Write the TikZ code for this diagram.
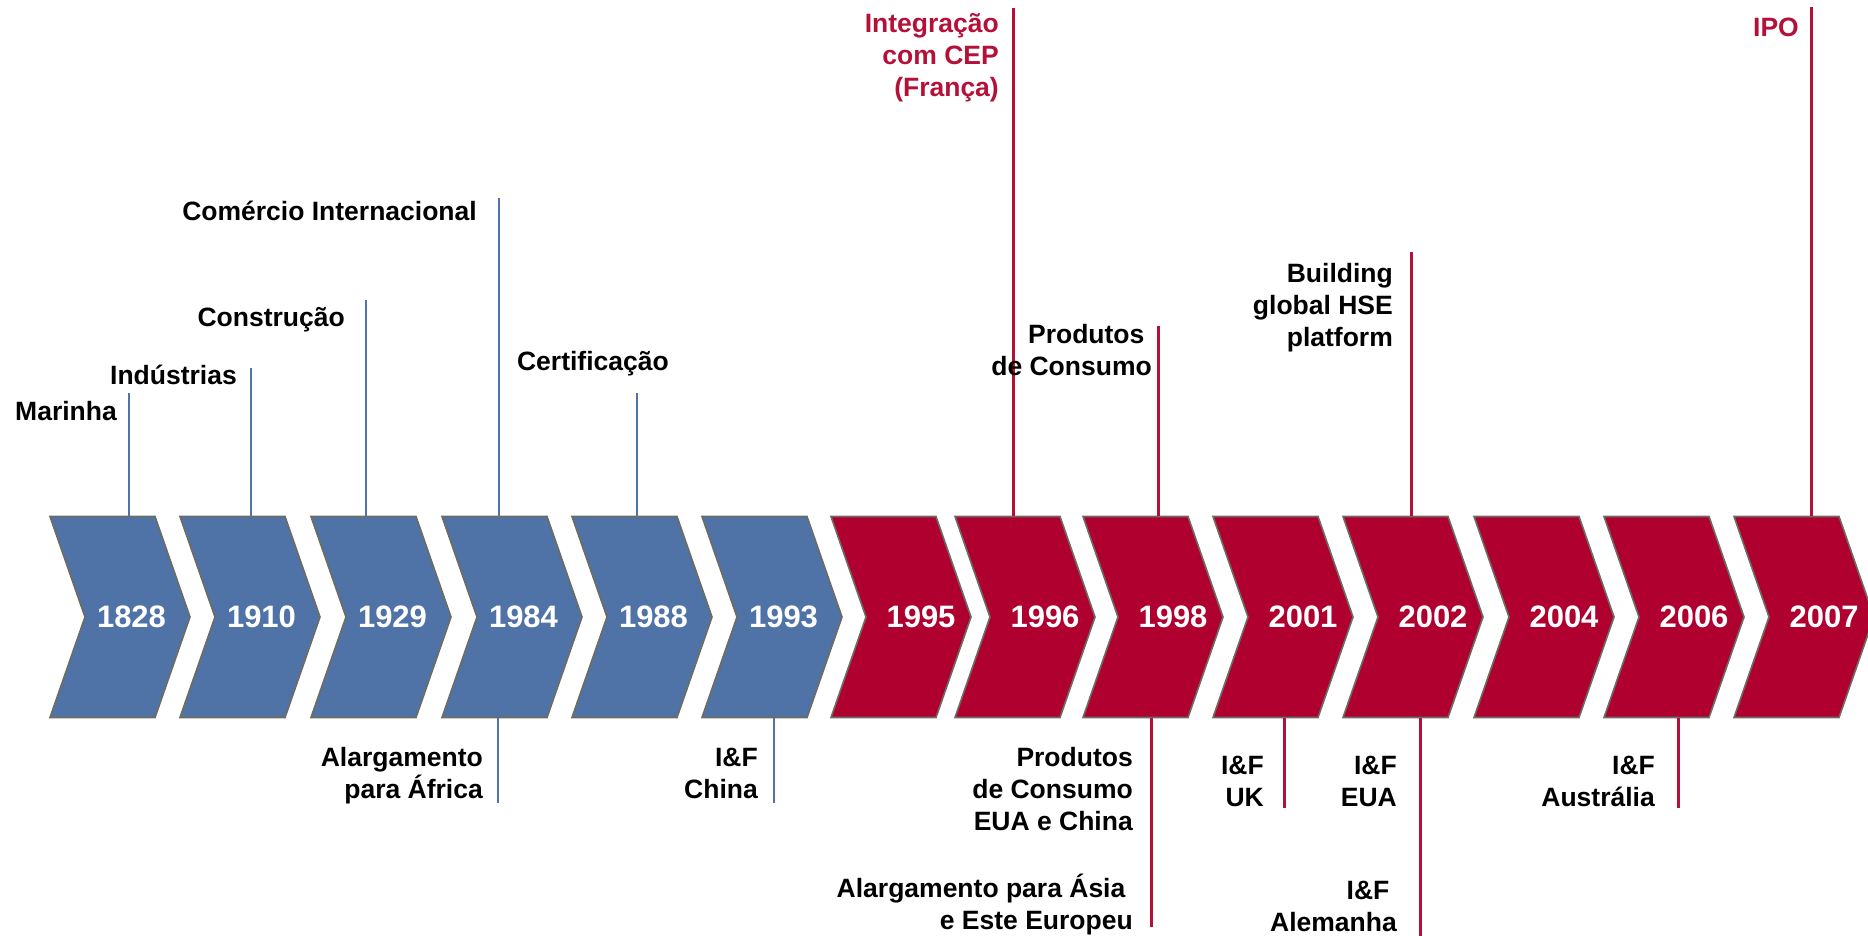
\documentclass[tikz,border=0pt]{standalone}
\usepackage{fontspec}
\setmainfont{Liberation Sans}
\usetikzlibrary{shapes.symbols}

\definecolor{chevblue}{RGB}{79,115,166}
\definecolor{chevred}{RGB}{175,0,47}
\definecolor{linered}{RGB}{180,16,56}
\definecolor{lineblue}{RGB}{79,115,172}
\definecolor{rimgray}{RGB}{108,108,98}

\tikzset{
  chev/.style={shape=signal, signal from=west, signal to=east, signal pointer angle=141.6,
    minimum width=140pt, minimum height=201pt, inner sep=0pt, draw=rimgray, line width=1.6pt},
  chevblue/.style={chev, fill=chevblue},
  chevred/.style={chev, fill=chevred},
  yeartext/.style={text=white, font=\fontsize{31}{37}\selectfont\bfseries, inner sep=0pt},
  yearblue/.style={yeartext, xshift=11.5pt},
  yearred/.style={yeartext, xshift=20pt},
  event/.style={anchor=base east, align=right, inner sep=0pt, font=\fontsize{26.5}{32}\selectfont\bfseries},
  redevent/.style={event, text=linered},
  blueline/.style={draw=lineblue, line width=2.5pt},
  redline/.style={draw=linered, line width=3pt}
}

\begin{document}
\begin{tikzpicture}[x=1pt, y=-1pt]
		\clip (0,0) rectangle (1868,936);
		
		% chevrons with years
		\foreach \yr/\xl/\kind in {1828/50/blue, 1910/180/blue, 1929/311/blue, 1984/442/blue, 1988/572/blue, 1993/702/blue,
		  1995/831/red, 1996/955/red, 1998/1083/red, 2001/1213/red, 2002/1343/red, 2004/1474/red, 2006/1604/red, 2007/1734/red}{
		  \node (c\yr) [chev\kind] at (\xl+70,617) {};
		  \node (t\yr) [year\kind] at (c\yr.center) {\yr};
		}
		
		% upper markers
		\coordinate (mMarinha) at (129,393);
		\coordinate (mIndustrias) at (251,368);
		\coordinate (mConstrucao) at (366,300);
		\coordinate (mComercio) at (499,198);
		\coordinate (mCertif) at (637,393);
		\coordinate (mCEP) at (1013,8);
		\coordinate (mConsumo) at (1158,326);
		\coordinate (mHSE) at (1411,252);
		\coordinate (mIPO) at (1811,7);
		
		\draw [blueline] (mMarinha |- c1828.north) -- (mMarinha);
		\draw [blueline] (mIndustrias |- c1910.north) -- (mIndustrias);
		\draw [blueline] (mConstrucao |- c1929.north) -- (mConstrucao);
		\draw [blueline] (mComercio |- c1984.north) -- (mComercio);
		\draw [blueline] (mCertif |- c1988.north) -- (mCertif);
		\draw [redline] (mCEP |- c1996.north) -- (mCEP);
		\draw [redline] (mConsumo |- c1998.north) -- (mConsumo);
		\draw [redline] (mHSE |- c2002.north) -- (mHSE);
		\draw [redline] (mIPO |- c2007.north) -- (mIPO);
		
		% labels sit on the baseline of their last line
		\node (eMarinha) [event] at (117,420.5) {Marinha};
		\node (eIndustrias) [event] at (237,384.5) {Indústrias};
		\node (eConstrucao) [event] at (345,326) {Construção};
		\node (eComercio) [event] at (477,220) {Comércio Internacional};
		\node (eCertif) [event] at (669,370.5) {Certificação};
		\node (eCEP) [redevent] at (999,97) {Integração\\com CEP\\(França)};
		\node (eConsumo) [event] at (1152,375) {Produtos\hspace*{.28em}\\de Consumo};
		\node (eHSE) [event] at (1393,346) {Building\\global HSE\\platform};
		\node (eIPO) [redevent] at (1799,37) {IPO};
		
		% lower markers
		\coordinate (bAfrica) at (498,803);
		\coordinate (bChina) at (774,803);
		\coordinate (bAsia) at (1151,927);
		\coordinate (bUK) at (1284,808);
		\coordinate (bAlemanha) at (1420,936);
		\coordinate (bAustralia) at (1678,808);
		
		\draw [blueline] (bAfrica |- c1984.south) -- (bAfrica);
		\draw [blueline] (bChina |- c1993.south) -- (bChina);
		\draw [redline] (bAsia |- c1998.south) -- (bAsia);
		\draw [redline] (bUK |- c2001.south) -- (bUK);
		\draw [redline] (bAlemanha |- c2002.south) -- (bAlemanha);
		\draw [redline] (bAustralia |- c2006.south) -- (bAustralia);
		
		\node (eAfrica) [event] at (483,798) {Alargamento\\para África};
		\node (eChina) [event] at (758,798) {I\&F\\China};
		\node (eConsumoUS) [event] at (1133,830) {Produtos\\de Consumo\\EUA e China};
		\node (eAsia) [event] at (1133,929) {Alargamento para Ásia\hspace*{.28em}\\e Este Europeu};
		\node (eUK) [event] at (1264,806) {I\&F\\UK};
		\node (eEUA) [event] at (1397,806) {I\&F\\EUA};
		\node (eAlemanha) [event] at (1397,931) {I\&F\hspace*{.28em}\\Alemanha};
		\node (eAustralia) [event] at (1655,806) {I\&F\\Austrália};
		
\end{tikzpicture}
\end{document}
